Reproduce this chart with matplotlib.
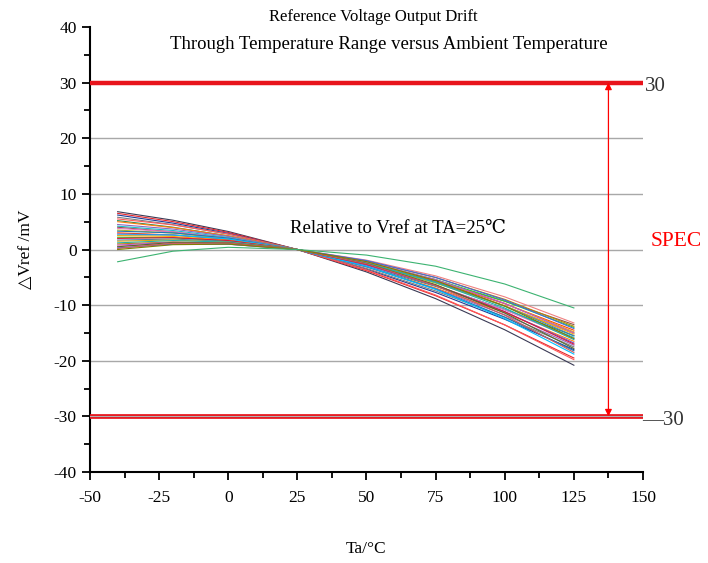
import matplotlib
matplotlib.use("Agg")
import matplotlib.pyplot as plt
from matplotlib.ticker import MultipleLocator

# temperatures where drift was sampled (deg C)
temps = [-40, -20, 0, 25, 50, 75, 100, 125]

# drift of each unit, mV, relative to Vref at 25 C
drift = [
    [6.8, 5.27, 3.24, 0, -4.03, -8.83, -14.43, -20.8],
    [6.5, 5.02, 3.08, 0, -3.80, -8.31, -13.55, -19.5],
    [6.2, 4.75, 2.90, 0, -3.54, -7.72, -12.54, -18.0],
    [5.8, 4.48, 2.75, 0, -3.40, -7.45, -12.15, -17.5],
    [5.5, 4.43, 2.80, 0, -3.66, -8.18, -13.56, -19.8],
    [5.2, 4.01, 2.45, 0, -3.02, -6.61, -10.77, -15.5],
    [5.0, 3.94, 2.46, 0, -3.12, -6.92, -11.37, -16.5],
    [4.5, 3.68, 2.35, 0, -3.13, -7.04, -11.73, -17.2],
    [4.2, 3.42, 2.18, 0, -2.89, -6.49, -10.79, -15.8],
    [4.0, 3.17, 1.98, 0, -2.54, -5.64, -9.29, -13.5],
    [3.8, 3.18, 2.08, 0, -2.85, -6.46, -10.85, -16.0],
    [3.5, 2.95, 1.93, 0, -2.66, -6.04, -10.16, -15.0],
    [3.3, 3.00, 2.06, 0, -3.06, -7.11, -12.16, -18.2],
    [3.0, 2.62, 1.75, 0, -2.50, -5.75, -9.75, -14.5],
    [2.8, 2.62, 1.83, 0, -2.78, -6.51, -11.18, -16.8],
    [2.6, 2.61, 1.90, 0, -3.02, -7.16, -12.42, -18.8],
    [2.5, 2.35, 1.65, 0, -2.51, -5.88, -10.11, -15.2],
    [2.2, 2.10, 1.49, 0, -2.29, -5.39, -9.29, -14.0],
    [2.0, 2.14, 1.61, 0, -2.67, -6.39, -11.17, -17.0],
    [1.7, 1.88, 1.43, 0, -2.41, -5.80, -10.16, -15.5],
    [1.5, 1.72, 1.33, 0, -2.28, -5.51, -9.68, -14.8],
    [1.2, 1.61, 1.33, 0, -2.42, -5.93, -10.52, -16.2],
    [1.0, 1.36, 1.13, 0, -2.06, -5.04, -8.96, -13.8],
    [0.8, 1.30, 1.14, 0, -2.19, -5.41, -9.69, -15.0],
    [0.6, 1.08, 0.97, 0, -1.91, -4.74, -8.51, -13.2],
    [0.5, 1.27, 1.22, 0, -2.52, -6.32, -11.42, -17.8],
    [0.3, 0.96, 0.95, 0, -1.99, -5.02, -9.09, -14.2],
    [0.2, 1.13, 1.18, 0, -2.56, -6.49, -11.81, -18.5],
    [0.0, 0.87, 0.97, 0, -2.18, -5.58, -10.18, -16.0],
    [-2.2, -0.3, 0.4, 0, -1.0, -3.0, -6.2, -10.5],
]

colors = [
    "#3a3a55", "#e8262b", "#1f3c99", "#7f7f7f", "#ff5a5a", "#2e8b57",
    "#ff7f0e", "#9467bd", "#17becf", "#8c564b", "#e377c2", "#bcbd22",
    "#1f77b4", "#ff4500", "#6a5acd", "#00bfff", "#ffa500", "#32cd32",
    "#dc143c", "#4682b4", "#daa520", "#20b2aa", "#b8860b", "#ba55d3",
    "#f08080", "#556b2f", "#4169e1", "#cd5c5c", "#808000", "#3cb371",
]

spec_hi = 30
spec_lo = -30

serif = ["Liberation Serif", "DejaVu Serif", "Noto Sans CJK SC"]
plt.rcParams["font.family"] = serif
plt.rcParams["axes.unicode_minus"] = False

fig = plt.figure(figsize=(7.08, 5.63), dpi=100)
ax = fig.add_axes([0.1271, 0.1616, 0.7811, 0.7904])

for y in [-20, -10, 0, 10, 20]:
    ax.axhline(y, color="#a8a8a8", lw=1.0, zorder=1)

for i, d in enumerate(drift):
    ax.plot(temps, d, color=colors[i % len(colors)], lw=0.8, zorder=2)

ax.axhline(spec_hi, color="#e8141c", lw=3.2, zorder=3)
ax.axhline(spec_lo, color="#e8141c", lw=3.4, zorder=3)
ax.axhline(spec_lo, color="#b0b0b0", lw=0.8, zorder=4)

ax.annotate("", xy=(137.5, spec_hi), xytext=(137.5, spec_lo),
            arrowprops=dict(arrowstyle="<|-|>", color="red", lw=0.9,
                            mutation_scale=10, shrinkA=0, shrinkB=0))

ax.text(150.8, spec_hi - 0.7, "30", fontsize=15, va="center", ha="left", color="#333333")
ax.text(149.8, spec_lo - 0.7, "\u201430", fontsize=15, va="center", ha="left", color="#333333")
ax.text(152.8, 1.4, "SPEC", fontsize=15.5, va="center", ha="left", color="red")

ax.text(22.5, 3.8, "Relative to Vref at TA=25\u2103", fontsize=13.5, va="center", ha="left")

fig.text(0.527, 0.969, "Reference Voltage Output Drift", fontsize=12, ha="center", va="center")
fig.text(0.549, 0.921, "Through Temperature Range versus Ambient Temperature",
         fontsize=13.5, ha="center", va="center")

ax.set_xlim(-50, 150)
ax.set_ylim(-40, 40)
ax.xaxis.set_major_locator(MultipleLocator(25))
ax.xaxis.set_minor_locator(MultipleLocator(12.5))
ax.yaxis.set_major_locator(MultipleLocator(10))
ax.yaxis.set_minor_locator(MultipleLocator(5))
ax.tick_params(which="major", length=6, width=1.3, labelsize=12.5, direction="out")
ax.tick_params(axis="x", which="major", pad=7)
ax.tick_params(which="minor", length=4, width=1.3, direction="out")

for s in ["top", "right"]:
    ax.spines[s].set_visible(False)
for s in ["left", "bottom"]:
    ax.spines[s].set_linewidth(1.5)

ax.set_xlabel("Ta/\u00b0C", fontsize=12.5)
ax.xaxis.set_label_coords(0.5, -0.155)
ax.set_ylabel("\u25b3Vref /mV", fontsize=12.5, labelpad=14)

plt.savefig("out.png", dpi=100)
